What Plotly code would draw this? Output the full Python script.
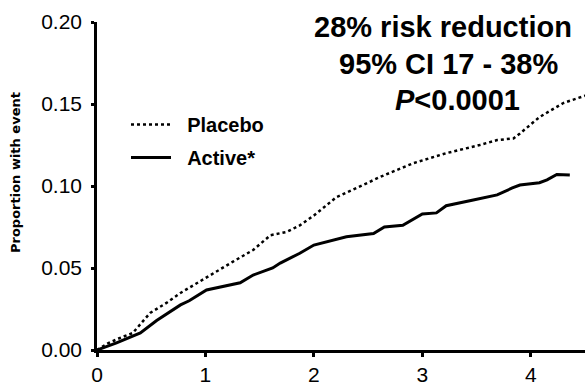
import plotly.graph_objects as go

# Years of follow-up and cumulative proportion with event
placebo_t = [0, 0.10, 0.20, 0.33, 0.49, 0.64, 0.77, 0.90, 1.00, 1.12, 1.25, 1.44, 1.60, 1.75, 1.87, 2.00, 2.21, 2.40, 2.61, 2.92, 3.22, 3.53, 3.69, 3.84, 3.90, 4.08, 4.30, 4.52]
placebo_y = [0, 0.004, 0.007, 0.0104, 0.0226, 0.0287, 0.0348, 0.040, 0.044, 0.049, 0.0537, 0.061, 0.070, 0.072, 0.076, 0.082, 0.0933, 0.099, 0.1055, 0.114, 0.120, 0.125, 0.128, 0.129, 0.132, 0.142, 0.1506, 0.1555]

active_t = [0, 0.18, 0.40, 0.55, 0.77, 0.85, 1.01, 1.32, 1.44, 1.62, 1.69, 1.87, 2.00, 2.30, 2.55, 2.65, 2.82, 3.00, 3.13, 3.22, 3.47, 3.69, 3.83, 3.90, 4.08, 4.15, 4.24, 4.36]
active_y = [0, 0.0043, 0.0104, 0.018, 0.0275, 0.030, 0.0366, 0.041, 0.0457, 0.050, 0.053, 0.059, 0.064, 0.069, 0.071, 0.075, 0.076, 0.083, 0.0836, 0.088, 0.0915, 0.0946, 0.0988, 0.1006, 0.102, 0.1037, 0.107, 0.1067]

x_ticks = [0, 1, 2, 3, 4]
y_ticks = [0.00, 0.05, 0.10, 0.15, 0.20]
y_tick_labels = ["0.00", "0.05", "0.10", "0.15", "0.20"]

FONT = "Liberation Sans, Arial, sans-serif"

W, H = 588, 385
L, R, T, B = 97, 3, 22, 35
PW, PH = W - L - R, H - T - B


def px(xp):
    return (xp - L) / PW


def py(yp):
    return (H - B - yp) / PH


GAP = "\u00a0\u00a0"

fig = go.Figure()
fig.add_trace(go.Scatter(x=placebo_t, y=placebo_y, mode="lines", name=GAP + "<b>Placebo</b>",
                         legendgroup="p",
                         line=dict(color="black", width=2.5, dash="dot"), cliponaxis=False))
fig.add_trace(go.Scatter(x=active_t, y=active_y, mode="lines", name=GAP + "<b>Active*</b>",
                         legendgroup="a",
                         line=dict(color="black", width=3), cliponaxis=False))

title_font = dict(family=FONT, size=29, color="black")
fig.add_annotation(xref="paper", yref="paper", x=px(443), y=py(27), xanchor="center", yanchor="middle",
                   text="<b>28% risk reduction</b>", showarrow=False, font=title_font)
fig.add_annotation(xref="paper", yref="paper", x=px(448), y=py(64), xanchor="center", yanchor="middle",
                   text="<b>95% CI 17 - 38%</b>", showarrow=False, font=title_font)
fig.add_annotation(xref="paper", yref="paper", x=px(457), y=py(100), xanchor="center", yanchor="middle",
                   text="<b><i>P</i><0.0001</b>", showarrow=False, font=title_font)

# y-axis title
fig.add_annotation(xref="paper", yref="paper", x=px(15), y=py(173), xanchor="center", yanchor="middle",
                   text="<b>Proportion with event</b>", textangle=-90, showarrow=False,
                   font=dict(family="DejaVu Sans, sans-serif", size=13, color="black"))

fig.update_layout(
    width=W, height=H,
    margin=dict(l=L, r=R, t=T, b=B),
    paper_bgcolor="white", plot_bgcolor="white",
    font=dict(family=FONT, color="black"),
    showlegend=True,
    legend=dict(x=px(126), y=py(105), xanchor="left", yanchor="top", bgcolor="rgba(0,0,0,0)",
                font=dict(family=FONT, size=20, color="black"), itemwidth=40, tracegroupgap=4),
    xaxis=dict(range=[0, 4.5], tickvals=x_ticks, ticktext=[str(v) for v in x_ticks],
               showgrid=False, zeroline=False, showline=True, linecolor="black", linewidth=2.5,
               ticks="outside", ticklen=4, tickwidth=3, tickcolor="black", automargin=False,
               ticklabelstandoff=0,
               tickfont=dict(family=FONT, size=21, color="black")),
    yaxis=dict(range=[0, 0.2], tickvals=y_ticks, ticktext=y_tick_labels,
               showgrid=False, zeroline=False, showline=True, linecolor="black", linewidth=2.5,
               ticks="outside", ticklen=3, tickwidth=3, tickcolor="black", automargin=False,
               ticklabelstandoff=5,
               tickfont=dict(family=FONT, size=21, color="black")),
)

fig.write_html("out.html", config={"displayModeBar": False},
               post_script="document.body.style.margin='0';document.body.style.overflow='hidden';")
